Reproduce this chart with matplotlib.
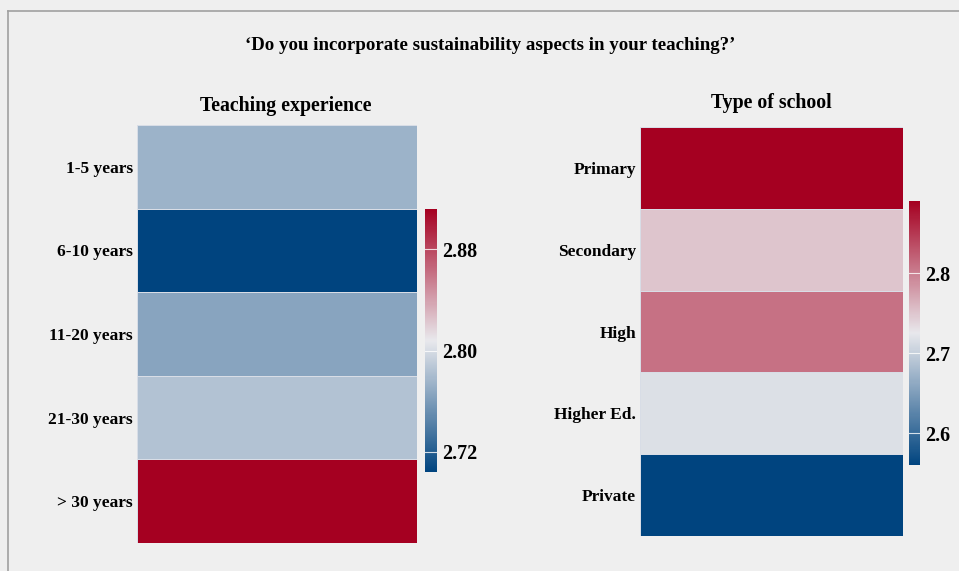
import numpy as np
import matplotlib.pyplot as plt
from matplotlib.colors import LinearSegmentedColormap
from matplotlib.lines import Line2D

plt.rcParams['font.family'] = ['Liberation Serif', 'DejaVu Serif']
plt.rcParams['font.weight'] = 'bold'

# data (mean scores)
experience_labels = ['1-5 years', '6-10 years', '11-20 years', '21-30 years', '> 30 years']
experience_values = [2.774, 2.704, 2.765, 2.784, 2.912]
experience_ticks = [2.72, 2.80, 2.88]

school_labels = ['Primary', 'Secondary', 'High', 'Higher Ed.', 'Private']
school_values = [2.89, 2.75, 2.81, 2.717, 2.56]
school_ticks = [2.6, 2.7, 2.8]

title = '\u2018Do you incorporate sustainability aspects in your teaching?\u2019'

cmap = LinearSegmentedColormap.from_list('bwr_soft', ['#00447f', '#e8e8ec', '#a50021'])

fig = plt.figure(figsize=(9.59, 5.71), dpi=100, facecolor='#efefef')

# frame lines at left and top
fig.add_artist(Line2D([8 / 959, 8 / 959], [0, 1 - 11 / 571], transform=fig.transFigure,
                      color='#a0a0a0', lw=1.2))
fig.add_artist(Line2D([8 / 959, 1], [1 - 11 / 571, 1 - 11 / 571], transform=fig.transFigure,
                      color='#a0a0a0', lw=1.2))

fig.text(0.511, 1 - 45 / 571, title, ha='center', va='center', fontsize=13.6, fontweight='bold')


def heat(ax_rect, cb_rect, labels, values, ticks, fmt, subtitle, title_pad, title_x):
    ax = fig.add_axes(ax_rect)
    data = np.array(values).reshape(-1, 1)
    vmin, vmax = min(values), max(values)
    mesh = ax.pcolormesh(data, cmap=cmap, vmin=vmin, vmax=vmax,
                         edgecolor='#d8dde6', linewidth=0.5)
    ax.set_ylim(len(values), 0)
    ax.set_xlim(0, 1)
    ax.set_xticks([])
    ax.set_yticks(np.arange(len(labels)) + 0.5)
    ax.set_yticklabels(labels, fontsize=12.5, fontweight='bold')
    ax.tick_params(axis='y', length=0, pad=3)
    for s in ax.spines.values():
        s.set_visible(False)
    ax.set_title(subtitle, fontsize=14.3, fontweight='bold', pad=title_pad, x=title_x)

    cax = fig.add_axes(cb_rect)
    cb = fig.colorbar(mesh, cax=cax)
    cb.outline.set_visible(False)
    cb.set_ticks(ticks)
    cb.set_ticklabels([fmt.format(t) for t in ticks])
    cax.tick_params(length=0, pad=4, labelsize=14.5)
    for lbl in cax.get_yticklabels():
        lbl.set_fontweight('bold')
    for t in ticks:
        cax.axhline(t, color='white', lw=0.8, alpha=0.8)
    return ax


heat([137 / 959, 1 - 543 / 571, 280 / 959, 418 / 571],
     [425 / 959, 1 - 472 / 571, 12 / 959, 263 / 571],
     experience_labels, experience_values, experience_ticks, '{:.2f}',
     'Teaching experience', 10, 0.532)

heat([640 / 959, 1 - 536 / 571, 263 / 959, 409 / 571],
     [909 / 959, 1 - 465 / 571, 11 / 959, 264 / 571],
     school_labels, school_values, school_ticks, '{:.1f}',
     'Type of school', 14, 0.5)

fig.savefig('out.png', dpi=100, facecolor=fig.get_facecolor())
